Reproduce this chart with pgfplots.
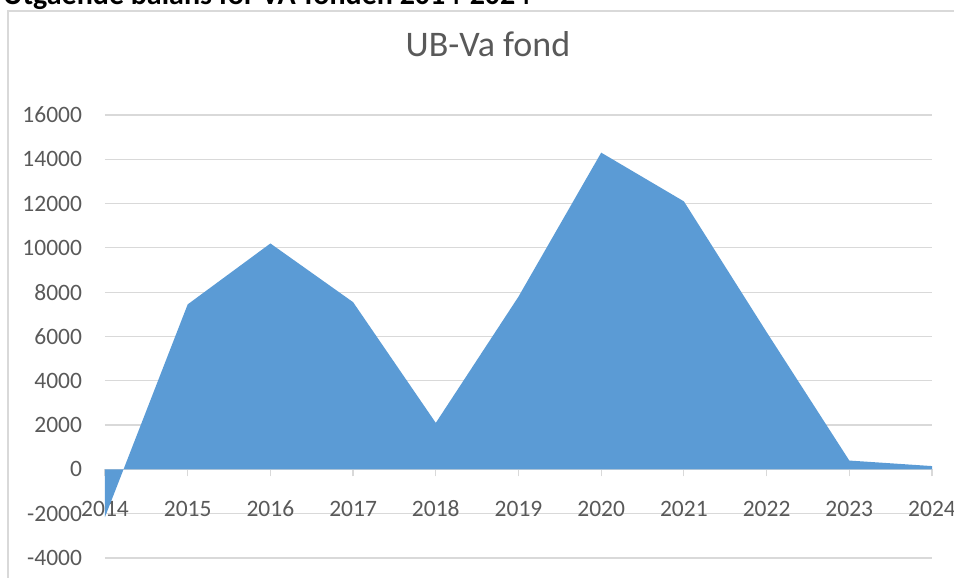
\documentclass[border=0pt]{standalone}
\usepackage{pgfplots}
\pgfplotsset{compat=1.18}
\usepackage{fontspec}
\setmainfont{Carlito}
\definecolor{areablue}{HTML}{5B9BD5}
\definecolor{gridgray}{HTML}{D9D9D9}
\definecolor{textgray}{HTML}{595959}
\begin{document}
\begin{tikzpicture}[x=1pt,y=1pt]
\useasboundingbox (0,0) rectangle (954,578);
\node[anchor=base west, inner sep=0, font=\fontsize{30}{34}\selectfont\bfseries] at (3,573) {Utgående balans för VA-fonden 2014-2024};
\draw[gridgray, line width=1.5pt] (8,-5) -- (8,567) -- (960,567);
\node[anchor=base, inner sep=0, text=textgray, font=\fontsize{36}{40}\selectfont] at (488,521) {UB-Va fond};
\begin{axis}[
  at={(105pt,20pt)}, anchor=south west,
  scale only axis, width=827pt, height=443pt,
  xmin=2014, xmax=2024, ymin=-4000, ymax=16000,
  xtick={2014,2015,...,2024}, ytick={-4000,-2000,...,16000},
  scaled y ticks=false, scaled x ticks=false,
  axis x line=middle, axis y line=left,
  x axis line style={-, gridgray, line width=1.5pt},
  y axis line style={draw=none},
  ymajorgrids, grid style={gridgray, line width=1.2pt},
  major tick length=7pt, xtick align=outside,
  xtick style={gridgray, line width=1.2pt},
  ytick style={draw=none},
  hide obscured x ticks=false, hide obscured y ticks=false,
  tick label style={font=\fontsize{23.5}{26}\selectfont, text=textgray},
  /pgf/number format/assume math mode=true,
  /pgf/number format/1000 sep={},
  xticklabel style={anchor=base, yshift=-40pt},
  yticklabel style={anchor=east, xshift=-16pt},
]
\addplot[fill=areablue, draw=none] coordinates {
(2014,0) (2014,-2150) (2015,7450) (2016,10200) (2017,7550) (2018,2100)
(2019,7800) (2020,14300) (2021,12100) (2022,6200) (2023,400) (2024,150) (2024,0)
} \closedcycle;
\end{axis}
\end{tikzpicture}
\end{document}
